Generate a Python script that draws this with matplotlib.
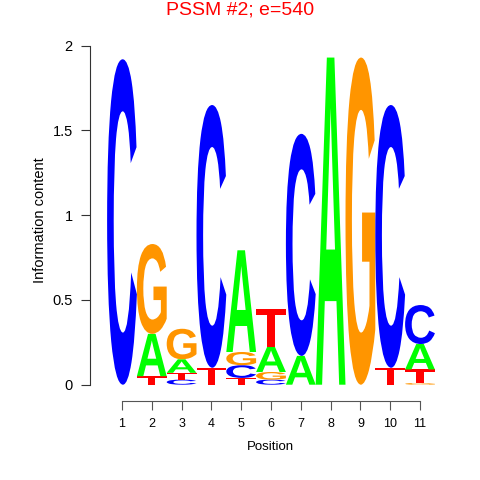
import matplotlib
matplotlib.use("Agg")
import matplotlib.pyplot as plt
from matplotlib.textpath import TextPath
from matplotlib.font_manager import FontProperties
from matplotlib.patches import PathPatch
from matplotlib.transforms import Affine2D

# information content per letter, positions 1..11
positions = [1, 2, 3, 4, 5, 6, 7, 8, 9, 10, 11]
A = [0.000, 0.25, 0.08, 0.000, 0.60, 0.15, 0.17, 1.93, 0.000, 0.000, 0.15]
C = [1.920, 0.00, 0.03, 1.550, 0.075, 0.03, 1.31, 0.00, 0.000, 1.550, 0.23]
G = [0.000, 0.53, 0.18, 0.000, 0.078, 0.045, 0.00, 0.00, 1.930, 0.000, 0.01]
T = [0.000, 0.05, 0.04, 0.100, 0.04, 0.22, 0.00, 0.00, 0.000, 0.100, 0.08]
letters = {"A": A, "C": C, "G": G, "T": T}
colors = {"A": "#00ff00", "C": "#0000ff", "G": "#ff9500", "T": "#ff0000"}

yticks = [0, 0.5, 1, 1.5, 2]
ytick_labels = ["0", "0.5", "1", "1.5", "2"]

font = FontProperties(family="Liberation Sans", weight="bold")
plt.rcParams["font.family"] = ["Liberation Sans", "DejaVu Sans"]

fig = plt.figure(figsize=(4.8, 4.8), dpi=100)
ax = fig.add_axes([90 / 480, 79 / 480, 360 / 480, 361 / 480])


def draw_letter(ax, ch, x, y0, h, w=1.0):
    if h <= 0:
        return
    tp = TextPath((0, 0), ch, size=1, prop=font)
    bb = tp.get_extents()
    tr = (Affine2D().translate(-bb.x0, -bb.y0)
          .scale(w / bb.width, h / bb.height)
          .translate(x - w / 2, y0))
    path = tr.transform_path(tp)
    ax.add_patch(PathPatch(path, facecolor=colors[ch], edgecolor="none"))


for i, pos in enumerate(positions):
    stack = sorted(letters.keys(), key=lambda k: letters[k][i])
    y = 0
    for ch in stack:
        h = letters[ch][i]
        draw_letter(ax, ch, pos, y, h)
        y += h

# axis ranges from pixel layout: pos1 at x=122, pos11 at x=420; y=0 at 384.7, y=2 at 45.7
ppx = (420 - 122) / 10
ppy = (384.7 - 45.7) / 2
ax.set_xlim(1 + (90 - 122) / ppx, 1 + (450 - 122) / ppx)
ax.set_ylim((384.7 - 401) / ppy, (384.7 - 40) / ppy)

for s in ["top", "right"]:
    ax.spines[s].set_visible(False)
ax.spines["left"].set_bounds(0, 2)
ax.spines["bottom"].set_bounds(1, 11)
ax.spines["bottom"].set_color("#555555")
ax.spines["left"].set_color("#333333")

ax.set_yticks(yticks)
ax.set_yticklabels(ytick_labels, fontsize=10.5)
ax.set_xticks(positions)
ax.set_xticklabels([str(p) for p in positions], fontsize=9)
ax.tick_params(axis="y", length=6.5, pad=6, color="#333333")
ax.tick_params(axis="x", length=6.5, pad=6, color="#555555")

ax.set_xlabel("Position", fontsize=9.5, labelpad=8)
ax.set_ylabel("Information content", fontsize=10.5, labelpad=4)

fig.text(0.5, 1 - 10 / 480, "PSSM #2; e=540", color="red", fontsize=14,
         ha="center", va="center")

fig.savefig("out.png", dpi=100)
